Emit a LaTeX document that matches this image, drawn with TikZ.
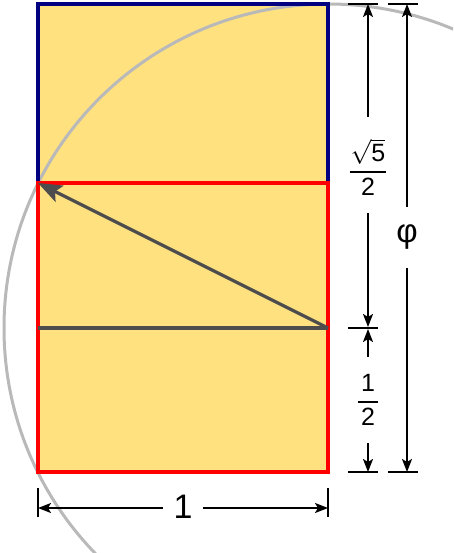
\documentclass[tikz,border=0pt]{standalone}
\usepackage{amsmath}
\usepackage{fontspec}
\setmainfont{Liberation Sans}
\usetikzlibrary{arrows.meta}
\definecolor{gold}{RGB}{255,225,128}
\definecolor{navyb}{RGB}{0,0,128}
\definecolor{darkg}{RGB}{77,77,77}
\definecolor{circg}{RGB}{185,185,185}
\tikzset{
  dimline/.style={line width=2pt,black},
  dimarrow/.style={dimline,-{Stealth[length=13pt,width=10pt,inset=3pt]}},
  tick/.style={line width=2pt,black},
  lbl/.style={inner sep=0pt,font=\fontsize{25}{28}\selectfont},
}
\newcommand\myfr[3]{$\displaystyle\genfrac{}{}{1.6pt}{}{\mbox{\hspace{#3}#1\hspace{#3}}}{\mbox{#2}}$}
\begin{document}
\begin{tikzpicture}[x=1pt,y=-1pt]
\useasboundingbox (0,0) rectangle (453,553);
\clip (0,0) rectangle (453,553);
% fill
\fill[gold] (38,4) rectangle (328,472);
% circle
\coordinate (c) at (328,328);
\draw[circg,line width=3pt] (c) circle[radius=324];
% borders
\draw[navyb,line width=3.5pt] (38,183) -- (38,4) -- (328,4) -- (328,183);
\draw[red,line width=3.5pt] (38,183) rectangle (328,472);
% inner lines
\coordinate (ml) at (38,328);
\coordinate (corner) at (38,183);
\draw[darkg,line width=3.2pt] (ml) -- (c);
\draw[darkg,line width=3.2pt,-{Stealth[length=24pt,width=18pt,inset=5pt]}] (c) -- (corner);
% ticks
\coordinate (ta1) at (348,4); \coordinate (ta2) at (378,4);
\coordinate (tb1) at (388,4); \coordinate (tb2) at (418,4);
\coordinate (tm1) at (348,328); \coordinate (tm2) at (378,328);
\coordinate (tc1) at (348,472); \coordinate (tc2) at (378,472);
\coordinate (td1) at (388,472); \coordinate (td2) at (418,472);
\draw[tick] (ta1) -- (ta2); \draw[tick] (tb1) -- (tb2);
\draw[tick] (tm1) -- (tm2);
\draw[tick] (tc1) -- (tc2); \draw[tick] (td1) -- (td2);
% sqrt5/2
\node[lbl] (s5) at (368,167) {\myfr{$\sqrt{\mbox{5}}$}{2}{1pt}};
\coordinate (s5t) at (368,117); \coordinate (s5b) at (368,213);
\coordinate (s5top) at (368,4); \coordinate (s5bot) at (368,327);
\draw[dimarrow] (s5t) -- (s5top);
\draw[dimarrow] (s5b) -- (s5bot);
% 1/2
\node[lbl] (h) at (368,400) {\myfr{1}{2}{3pt}};
\coordinate (ht) at (368,357); \coordinate (hb) at (368,443);
\coordinate (htop) at (368,329); \coordinate (hbot) at (368,472);
\draw[dimarrow] (ht) -- (htop);
\draw[dimarrow] (hb) -- (hbot);
% phi
\node[inner sep=0pt,font=\fontsize{33}{36}\selectfont] (phi) at (407,237) {φ};
\coordinate (pt) at (407,207); \coordinate (pb) at (407,268);
\coordinate (ptop) at (407,4); \coordinate (pbot) at (407,472);
\draw[dimarrow] (pt) -- (ptop);
\draw[dimarrow] (pb) -- (pbot);
% bottom 1
\coordinate (bl1) at (38,488); \coordinate (bl2) at (38,517);
\coordinate (br1) at (328,488); \coordinate (br2) at (328,517);
\draw[tick] (bl1) -- (bl2); \draw[tick] (br1) -- (br2);
\node[inner sep=0pt,font=\fontsize{34}{36}\selectfont] (one) at (183,507) {1};
\coordinate (ol) at (163,508); \coordinate (or) at (203,508);
\coordinate (oll) at (38,508); \coordinate (orr) at (328,508);
\draw[dimarrow] (ol) -- (oll);
\draw[dimarrow] (or) -- (orr);
\end{tikzpicture}
\end{document}
